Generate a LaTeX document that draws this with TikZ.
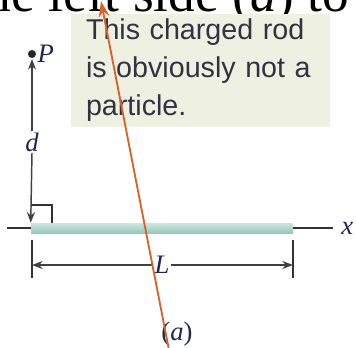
\documentclass[tikz,border=0pt]{standalone}
\usepackage{fontspec}
\usepackage{xcolor}
\usepackage{tikz}
\usetikzlibrary{positioning,arrows.meta,calc}
\setmainfont{Liberation Serif}
\newfontfamily\notefont{Liberation Sans}
\definecolor{rodorange}{RGB}{214,100,45}
\definecolor{labelblue}{RGB}{30,38,85}
\definecolor{notebg}{RGB}{238,240,226}
\definecolor{notetext}{RGB}{50,50,66}
\definecolor{rodlight}{RGB}{200,232,222}
\definecolor{roddark}{RGB}{150,200,186}
\tikzset{
  lbl/.style={font=\fontsize{20}{22}\selectfont\itshape, text=labelblue, inner sep=1pt},
  note/.style={fill=notebg, minimum width=194.25pt, minimum height=84.75pt,
               text width=171.75pt, inner xsep=11.25pt, align=left, text=notetext,
               font=\notefont\fontsize{21.5}{28.5}\selectfont},
  rodbox/.style={rectangle, top color=rodlight, bottom color=roddark, draw=none,
                 minimum width=196.5pt, minimum height=7.5pt, inner sep=0pt},
  line/.style={line width=1.1pt, black!80},
  dim/.style={-{Stealth[length=8pt,width=6pt]}, line width=1.1pt, black!75},
  pointer/.style={-{Stealth[length=12pt,width=8pt]}, line width=1.4pt, rodorange}
}

\begin{document}
\begin{tikzpicture}[x=0.75pt, y=-0.75pt]
    \useasboundingbox (0,0) rectangle (356,347);
    \node[anchor=base east, font=\fontsize{40}{44}\selectfont] (head) at (354,11) {the left side (\textit{a}) to};
    \node[note] (note) at (200.5,70.5) {This charged rod\\is obviously not a\\particle.};

    % rod on the x axis
    \node[rodbox] (rod) at (162,228) {};
    \coordinate (axl) at (7,228);
    \coordinate (axr) at (333,228);
    \draw[line] (axl) -- (rod.west);
    \draw[line] (rod.east) -- (axr);
    \node[lbl, right=5pt of axr] (xl) {x};

    % point P and distance d
    \fill[black!85] (32,54) circle (4) coordinate (P);
    \node[lbl, right=3pt of P] (pl) {P};
    \node[lbl] (d) at (32,142) {d};
    \draw[dim] (d.north) -- ($(P)+(0,5)$);
    \draw[dim] (d.south) -- (rod.north west);
    \draw[line] (32,205) -- (52,205) -- (52,223);

    % length L
    \coordinate (tl) at (32,240);
    \coordinate (tr) at (293,240);
    \draw[line] (tl) -- ++(0,38);
    \draw[line] (tr) -- ++(0,38);
    \node[lbl] (L) at (162,265) {L};
    \draw[dim] (L.west) -- ++(-6,0) -- (32,265);
    \draw[dim] (L.east) -- ++(6,0) -- (293,265);

    \node[lbl] (a) at (177,334) {\upshape(\textit{a})};
    \coordinate (pfrom) at (169,350);
    \coordinate (pto) at (101,1);
    \draw[pointer] (pfrom) -- (pto);
  \end{tikzpicture}
\end{document}
